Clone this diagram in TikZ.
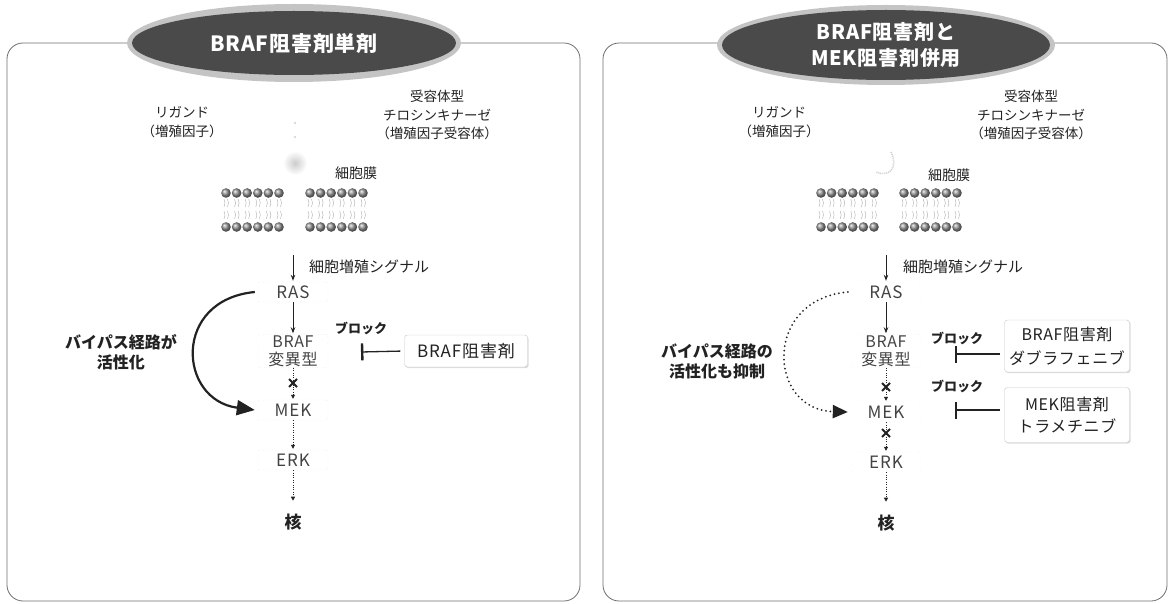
\documentclass[tikz,border=0pt]{standalone}
\usepackage{fontspec}
\setmainfont{Noto Sans CJK JP}
\usetikzlibrary{arrows.meta,shadows,shapes.geometric}

\definecolor{ink}{HTML}{222222}
\definecolor{pillfill}{HTML}{4A4A4A}
\definecolor{halofill}{HTML}{C4C4C4}
\definecolor{frame}{HTML}{6E6E6E}

\begin{document}
\begin{tikzpicture}[x=1pt,y=-1pt,
  panel/.style={draw=frame, line width=0.8pt, rounded corners=16pt},
  halo/.style={ellipse, fill=halofill, inner sep=0pt},
  pill/.style={ellipse, fill=pillfill, text=white, align=center, inner sep=0pt,
    font=\bfseries\fontsize{21}{26}\selectfont\addfontfeature{LetterSpace=4}},
  lbl/.style={text=ink, align=center, inner sep=0pt, font=\fontsize{13.5}{18.5}\selectfont},
  sig/.style={text=ink, inner sep=0pt, font=\fontsize{15}{18}\selectfont},
  boldlbl/.style={text=ink, align=center, inner sep=0pt, font=\bfseries\fontsize{16}{20}\selectfont},
  nuc/.style={text=ink, inner sep=0pt, font=\bfseries\fontsize{17}{20}\selectfont},
  blk/.style={text=ink, inner sep=0pt, font=\bfseries\fontsize{13}{16}\selectfont},
  mol/.style={text=ink!85, align=center, draw=gray!40, dotted, rounded corners=2pt,
    minimum width=70pt, minimum height=20pt, inner sep=1pt,
    font=\fontsize{17}{18}\selectfont\addfontfeature{LetterSpace=6}},
  molfaint/.style={mol, draw=gray!18},
  drug/.style={text=ink, align=center, draw=gray!45, rounded corners=3pt, fill=white,
    drop shadow={shadow xshift=1.2pt, shadow yshift=-1.2pt, fill=gray!55},
    inner sep=2pt, font=\fontsize{17}{24}\selectfont\addfontfeature{LetterSpace=5}},
  sarrow/.style={draw=ink, line width=0.9pt, -{Stealth[length=6pt,width=4.5pt]}, shorten >=1pt},
  darrow/.style={draw=ink, line width=0.8pt, dash pattern=on 0.8pt off 1.6pt,
    -{Triangle[length=4pt,width=4pt]}, shorten >=1pt},
  bypass/.style={draw=ink, line width=2.2pt, -{Triangle[length=18pt,width=15pt]}},
  bypassdot/.style={draw=ink, line width=2pt, line cap=round, dash pattern=on 0pt off 4.5pt,
    -{Triangle[length=15pt,width=13pt]}},
  inhib/.style={draw=ink, line width=1.3pt, -{Bar[width=17pt,line width=2.4pt]}},
  xmark/.style={draw=ink, line width=1.8pt},
  tail/.style={draw=gray!60, line width=0.45pt},
]
\useasboundingbox (0,0) rectangle (1171,604);

% ---------------- left panel: BRAF inhibitor alone ----------------
\draw[panel] (7,43) rectangle (580,601);
\node[halo, minimum width=334pt, minimum height=78pt] (haloL) at (294,43) {};
\node[pill, minimum width=324pt, minimum height=64pt] (titleL) at (294,43) {BRAF阻害剤単剤};

\node[lbl] (ligL) at (182,122) {リガンド\\（増殖因子）};
\node[lbl] (rtkL) at (437,115) {受容体型\\チロシンキナーゼ\\（増殖因子受容体）};

% faint ligand
\shade[inner color=gray!40, outer color=white] (295,163) circle (12);
\fill[gray!30] (295,123) circle (1.3) (295,137) circle (1.3);

\node[lbl, font=\fontsize{14}{18}\selectfont] (memL) at (356,173) {細胞膜};

% lipid bilayer
\foreach \bx in {226,236.6,...,280, 310,320.6,...,364} {
  \shade[ball color=gray!85] (\bx,193) circle (4.8);
  \shade[ball color=gray!85] (\bx,227) circle (4.8);
  \draw[tail] (\bx-2,199) -- (\bx-1,203) -- (\bx-2,207) (\bx+1.5,199) -- (\bx+2.5,203) -- (\bx+1.5,207);
  \draw[tail] (\bx-2,211) -- (\bx-1,215) -- (\bx-2,219) (\bx+1.5,211) -- (\bx+2.5,215) -- (\bx+1.5,219);
}

\coordinate (sigL) at (293,255);
\node[sig, anchor=west] (sigtxtL) at (309,267) {細胞増殖シグナル};
\node[mol] (rasL) at (293,292) {RAS};
\node[mol, font=\fontsize{16}{18}\selectfont\addfontfeature{LetterSpace=4}] (brafL) at (293,351) {BRAF\\変異型};
\node[mol] (mekL) at (293,410) {MEK};
\node[mol] (erkL) at (293,460) {ERK};
\node[nuc] (nucL) at (293,522) {核};

\node[boldlbl] (bypassL) at (121,352) {バイパス経路が\\活性化};
\node[blk] (blockL) at (361,328) {ブロック};
\node[drug, minimum width=123pt, minimum height=32pt] (drugL) at (466,351) {BRAF阻害剤};
\coordinate (barL) at (361,352);
\coordinate (xL1) at (293,383);

\draw[sarrow] (sigL) -- (rasL);
\draw[sarrow] (rasL) -- (brafL);
\draw[darrow] (brafL) -- (mekL);
\draw[darrow] (mekL) -- (erkL);
\draw[darrow, shorten >=13pt] (erkL) -- (nucL);
\draw[xmark] (xL1) ++(-4,-4) -- ++(8,8) (xL1) ++(-4,4) -- ++(8,-8);
\draw[bypass] ([xshift=-3pt]rasL.west) .. controls (172,300) and (178,400) .. ([xshift=-3pt]mekL.west);
\draw[inhib, shorten <=4pt] (drugL.west) -- (barL);

% ---------------- right panel: BRAF + MEK inhibitors ----------------
\draw[panel] (603,43) rectangle (1167,601);
\node[halo, minimum width=338pt, minimum height=80pt] (haloR) at (886,45) {};
\node[pill, minimum width=328pt, minimum height=70pt,
  font=\bfseries\fontsize{20}{26}\selectfont\addfontfeature{LetterSpace=4}]
  (titleR) at (886,45) {BRAF阻害剤と\\MEK阻害剤併用};

\node[lbl] (ligR) at (779,122) {リガンド\\（増殖因子）};
\node[lbl] (rtkR) at (1031,115) {受容体型\\チロシンキナーゼ\\（増殖因子受容体）};

% faint ligand
\draw[gray!40, line width=1.6pt, dash pattern=on 1pt off 1pt]
  (891,152) .. controls (898,166) and (891,178) .. (876,172);

\node[lbl, font=\fontsize{14}{18}\selectfont] (memR) at (949,175) {細胞膜};

\foreach \bx in {821,831.6,...,875, 904,914.6,...,958} {
  \shade[ball color=gray!85] (\bx,193) circle (4.8);
  \shade[ball color=gray!85] (\bx,227) circle (4.8);
  \draw[tail] (\bx-2,199) -- (\bx-1,203) -- (\bx-2,207) (\bx+1.5,199) -- (\bx+2.5,203) -- (\bx+1.5,207);
  \draw[tail] (\bx-2,211) -- (\bx-1,215) -- (\bx-2,219) (\bx+1.5,211) -- (\bx+2.5,215) -- (\bx+1.5,219);
}

\coordinate (sigR) at (886,255);
\node[sig, anchor=west] (sigtxtR) at (903,267) {細胞増殖シグナル};
\node[molfaint] (rasR) at (886,292) {RAS};
\node[molfaint, font=\fontsize{16}{18}\selectfont\addfontfeature{LetterSpace=4}] (brafR) at (886,351) {BRAF\\変異型};
\node[molfaint] (mekR) at (886,412) {MEK};
\node[molfaint] (erkR) at (886,462) {ERK};
\node[nuc] (nucR) at (886,523) {核};

\node[boldlbl] (bypassR) at (717,361) {バイパス経路の\\活性化も抑制};
\node[blk] (blockR1) at (957,338) {ブロック};
\node[blk] (blockR2) at (957,386) {ブロック};
\node[drug, minimum width=125pt, minimum height=52pt, font=\fontsize{16}{24}\selectfont\addfontfeature{LetterSpace=4}]
  (drugR1) at (1067,346) {BRAF阻害剤\\ダブラフェニブ};
\node[drug, minimum width=125pt, minimum height=55pt, font=\fontsize{16}{22}\selectfont\addfontfeature{LetterSpace=4}]
  (drugR2) at (1067,415) {MEK阻害剤\\トラメチニブ};
\coordinate (barR1) at (955,354);
\coordinate (barR2) at (955,410);
\coordinate (xR1) at (886,387);
\coordinate (xR2) at (886,433);

\draw[sarrow] (sigR) -- (rasR);
\draw[sarrow] (rasR) -- (brafR);
\draw[darrow] (brafR) -- (mekR);
\draw[darrow] (mekR) -- (erkR);
\draw[darrow, shorten >=13pt] (erkR) -- (nucR);
\draw[xmark] (xR1) ++(-4,-4) -- ++(8,8) (xR1) ++(-4,4) -- ++(8,-8);
\draw[xmark] (xR2) ++(-4,-4) -- ++(8,8) (xR2) ++(-4,4) -- ++(8,-8);
\draw[bypassdot] ([xshift=-3pt]rasR.west) .. controls (762,300) and (768,410) .. ([xshift=-3pt]mekR.west);
\draw[inhib, shorten <=4pt] (barR1 -| drugR1.west) -- (barR1);
\draw[inhib, shorten <=4pt] (barR2 -| drugR2.west) -- (barR2);
\end{tikzpicture}
\end{document}
